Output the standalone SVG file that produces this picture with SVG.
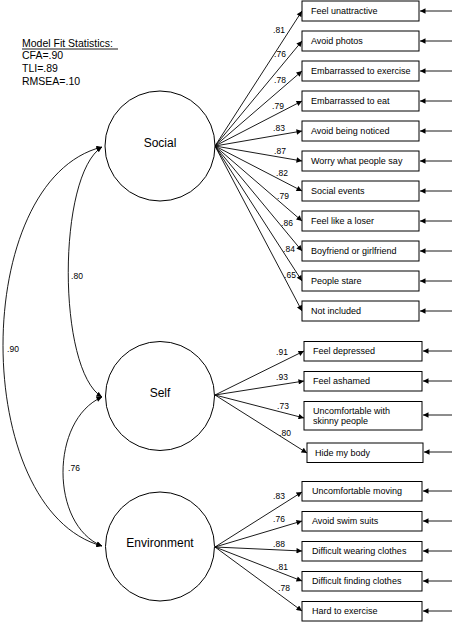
<svg xmlns="http://www.w3.org/2000/svg" width="455" height="622" viewBox="0 0 455 622">
<style>
text{font-family:"Liberation Sans",Arial,sans-serif;fill:#000}
.box{fill:#fff;stroke:#000;stroke-width:1}
.lat{fill:#fff;stroke:#000;stroke-width:1}
.bt{font-size:9px}
.lt{font-size:12px;text-anchor:middle}
.ld{font-size:8.5px;text-anchor:middle}
.st{font-size:10.5px}
.cn{fill:none;stroke:#000;stroke-width:0.9}
</style>
<defs>
<marker id="ah" viewBox="0 0 10 10" refX="10" refY="5" markerWidth="7" markerHeight="5.5" markerUnits="userSpaceOnUse" orient="auto-start-reverse">
<path d="M0,0 L10,5 L0,10 z" fill="#000"/>
</marker>
</defs>
<rect width="455" height="622" fill="#fff"/>

<g id="fit-stats">
<text class="st" x="22" y="47">Model Fit Statistics:</text>
<line x1="22" y1="49" x2="118" y2="49" stroke="#000" stroke-width="0.9"/>
<text class="st" x="22" y="59">CFA=.90</text>
<text class="st" x="22" y="72">TLI=.89</text>
<text class="st" x="22" y="85">RMSEA=.10</text>
</g>

<g id="connectors">
<!-- covariances -->
<path class="cn" d="M102,147 C57,175 57,370 102,397" marker-start="url(#ah)" marker-end="url(#ah)"/>
<path class="cn" d="M102,147 C-30,180 -30,510 102,546" marker-start="url(#ah)" marker-end="url(#ah)"/>
<path class="cn" d="M102,397 C50,420 50,525 102,546" marker-start="url(#ah)" marker-end="url(#ah)"/>
<!-- Social loadings -->
<line class="cn" x1="215" y1="146" x2="302" y2="11" marker-end="url(#ah)"/>
<line class="cn" x1="215" y1="146" x2="302" y2="41" marker-end="url(#ah)"/>
<line class="cn" x1="215" y1="146" x2="302" y2="71" marker-end="url(#ah)"/>
<line class="cn" x1="215" y1="146" x2="302" y2="101" marker-end="url(#ah)"/>
<line class="cn" x1="215" y1="146" x2="302" y2="131" marker-end="url(#ah)"/>
<line class="cn" x1="215" y1="146" x2="302" y2="161" marker-end="url(#ah)"/>
<line class="cn" x1="215" y1="146" x2="302" y2="191" marker-end="url(#ah)"/>
<line class="cn" x1="215" y1="146" x2="302" y2="221" marker-end="url(#ah)"/>
<line class="cn" x1="215" y1="146" x2="302" y2="251" marker-end="url(#ah)"/>
<line class="cn" x1="215" y1="146" x2="302" y2="281" marker-end="url(#ah)"/>
<line class="cn" x1="215" y1="146" x2="302" y2="311" marker-end="url(#ah)"/>
<!-- Self loadings -->
<line class="cn" x1="215" y1="395" x2="304" y2="351" marker-end="url(#ah)"/>
<line class="cn" x1="215" y1="395" x2="304" y2="381" marker-end="url(#ah)"/>
<line class="cn" x1="215" y1="395" x2="304" y2="418" marker-end="url(#ah)"/>
<line class="cn" x1="215" y1="395" x2="307" y2="453" marker-end="url(#ah)"/>
<!-- Environment loadings -->
<line class="cn" x1="215" y1="547" x2="302" y2="492" marker-end="url(#ah)"/>
<line class="cn" x1="215" y1="547" x2="302" y2="521" marker-end="url(#ah)"/>
<line class="cn" x1="215" y1="547" x2="302" y2="551" marker-end="url(#ah)"/>
<line class="cn" x1="215" y1="547" x2="302" y2="581" marker-end="url(#ah)"/>
<line class="cn" x1="215" y1="547" x2="302" y2="611" marker-end="url(#ah)"/>
<!-- error arrows -->
<line class="cn" x1="452" y1="11" x2="420" y2="11" marker-end="url(#ah)"/>
<line class="cn" x1="452" y1="41" x2="420" y2="41" marker-end="url(#ah)"/>
<line class="cn" x1="452" y1="71" x2="420" y2="71" marker-end="url(#ah)"/>
<line class="cn" x1="452" y1="101" x2="420" y2="101" marker-end="url(#ah)"/>
<line class="cn" x1="452" y1="131" x2="420" y2="131" marker-end="url(#ah)"/>
<line class="cn" x1="452" y1="161" x2="420" y2="161" marker-end="url(#ah)"/>
<line class="cn" x1="452" y1="191" x2="420" y2="191" marker-end="url(#ah)"/>
<line class="cn" x1="452" y1="221" x2="420" y2="221" marker-end="url(#ah)"/>
<line class="cn" x1="452" y1="251" x2="420" y2="251" marker-end="url(#ah)"/>
<line class="cn" x1="452" y1="281" x2="420" y2="281" marker-end="url(#ah)"/>
<line class="cn" x1="452" y1="311" x2="420" y2="311" marker-end="url(#ah)"/>
<line class="cn" x1="452" y1="351" x2="423" y2="351" marker-end="url(#ah)"/>
<line class="cn" x1="452" y1="381" x2="423" y2="381" marker-end="url(#ah)"/>
<line class="cn" x1="452" y1="415" x2="423" y2="415" marker-end="url(#ah)"/>
<line class="cn" x1="452" y1="452" x2="424" y2="452" marker-end="url(#ah)"/>
<line class="cn" x1="452" y1="491" x2="423" y2="491" marker-end="url(#ah)"/>
<line class="cn" x1="452" y1="521" x2="423" y2="521" marker-end="url(#ah)"/>
<line class="cn" x1="452" y1="551" x2="423" y2="551" marker-end="url(#ah)"/>
<line class="cn" x1="452" y1="581" x2="423" y2="581" marker-end="url(#ah)"/>
<line class="cn" x1="452" y1="611" x2="423" y2="611" marker-end="url(#ah)"/>
<!-- loading labels -->
<text class="ld" x="279" y="33">.81</text>
<text class="ld" x="280" y="57">.76</text>
<text class="ld" x="280" y="83">.78</text>
<text class="ld" x="278" y="109">.79</text>
<text class="ld" x="279" y="131">.83</text>
<text class="ld" x="280" y="154">.87</text>
<text class="ld" x="282" y="176">.82</text>
<text class="ld" x="283" y="199">.79</text>
<text class="ld" x="287" y="226">.86</text>
<text class="ld" x="289" y="252">.84</text>
<text class="ld" x="290" y="278">.65</text>
<text class="ld" x="282" y="355">.91</text>
<text class="ld" x="282" y="380">.93</text>
<text class="ld" x="283" y="409">.73</text>
<text class="ld" x="285" y="436">.80</text>
<text class="ld" x="279" y="499">.83</text>
<text class="ld" x="279" y="522">.76</text>
<text class="ld" x="279" y="547">.88</text>
<text class="ld" x="282" y="570">.81</text>
<text class="ld" x="284" y="591">.78</text>
<text class="ld" x="77" y="279">.80</text>
<text class="ld" x="13" y="352">.90</text>
<text class="ld" x="74" y="471">.76</text>
</g>

<g id="social">
<circle class="lat" cx="160" cy="146" r="55"/>
<text class="lt" x="160" y="147">Social</text>
</g>
<g id="self">
<circle class="lat" cx="160" cy="396" r="54.5"/>
<text class="lt" x="160" y="397">Self</text>
</g>
<g id="environment">
<circle class="lat" cx="160" cy="546.5" r="54.5"/>
<text class="lt" x="160" y="547">Environment</text>
</g>

<g id="soc1"><rect class="box" x="302" y="1" width="117" height="20"/><text class="bt" x="311" y="14">Feel unattractive</text></g>
<g id="soc2"><rect class="box" x="302" y="31" width="117" height="20"/><text class="bt" x="311" y="44">Avoid photos</text></g>
<g id="soc3"><rect class="box" x="302" y="61" width="117" height="20"/><text class="bt" x="311" y="74">Embarrassed to exercise</text></g>
<g id="soc4"><rect class="box" x="302" y="91" width="117" height="20"/><text class="bt" x="311" y="104">Embarrassed to eat</text></g>
<g id="soc5"><rect class="box" x="302" y="121" width="117" height="20"/><text class="bt" x="311" y="134">Avoid being noticed</text></g>
<g id="soc6"><rect class="box" x="302" y="151" width="117" height="20"/><text class="bt" x="311" y="164">Worry what people say</text></g>
<g id="soc7"><rect class="box" x="302" y="181" width="117" height="20"/><text class="bt" x="311" y="194">Social events</text></g>
<g id="soc8"><rect class="box" x="302" y="211" width="117" height="20"/><text class="bt" x="311" y="224">Feel like a loser</text></g>
<g id="soc9"><rect class="box" x="302" y="241" width="117" height="20"/><text class="bt" x="311" y="254">Boyfriend or girlfriend</text></g>
<g id="soc10"><rect class="box" x="302" y="271" width="117" height="20"/><text class="bt" x="311" y="284">People stare</text></g>
<g id="soc11"><rect class="box" x="302" y="301" width="117" height="20"/><text class="bt" x="311" y="314">Not included</text></g>

<g id="self1"><rect class="box" x="304" y="341.5" width="118" height="19.5"/><text class="bt" x="313" y="354">Feel depressed</text></g>
<g id="self2"><rect class="box" x="304" y="371.5" width="118" height="19.5"/><text class="bt" x="313" y="384">Feel ashamed</text></g>
<g id="self3"><rect class="box" x="304" y="401.5" width="118" height="28.5"/><text class="bt" x="313" y="414">Uncomfortable with</text><text class="bt" x="313" y="424">skinny people</text></g>
<g id="self4"><rect class="box" x="307" y="443" width="116" height="19.5"/><text class="bt" x="315" y="455.5">Hide my body</text></g>

<g id="env1"><rect class="box" x="302" y="481.5" width="120" height="19.5"/><text class="bt" x="312" y="494">Uncomfortable moving</text></g>
<g id="env2"><rect class="box" x="302" y="511.5" width="120" height="19.5"/><text class="bt" x="312" y="524">Avoid swim suits</text></g>
<g id="env3"><rect class="box" x="302" y="541.5" width="120" height="19.5"/><text class="bt" x="312" y="554">Difficult wearing clothes</text></g>
<g id="env4"><rect class="box" x="302" y="571.5" width="120" height="19.5"/><text class="bt" x="312" y="584">Difficult finding clothes</text></g>
<g id="env5"><rect class="box" x="302" y="601.5" width="120" height="19.5"/><text class="bt" x="312" y="614">Hard to exercise</text></g>
</svg>
